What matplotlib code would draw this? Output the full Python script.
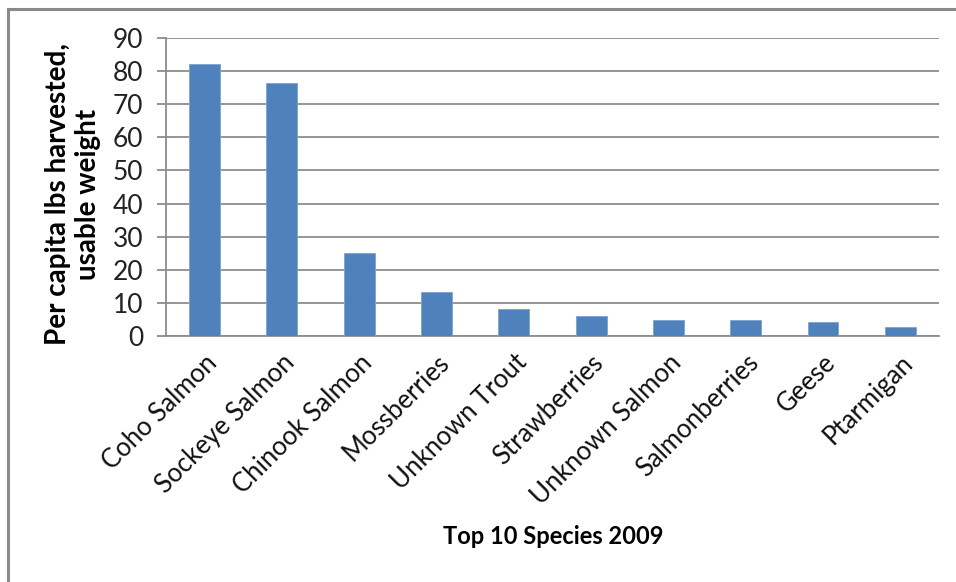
import matplotlib.pyplot as plt
from matplotlib.patches import Rectangle

species = ['Coho Salmon', 'Sockeye Salmon', 'Chinook Salmon', 'Mossberries',
           'Unknown Trout', 'Strawberries', 'Unknown Salmon', 'Salmonberries',
           'Geese', 'Ptarmigan']
lbs = [82.0, 76.5, 25.0, 13.2, 8.2, 5.9, 4.8, 4.8, 4.3, 2.7]
yticks = [0, 10, 20, 30, 40, 50, 60, 70, 80, 90]

plt.rcParams['font.family'] = ['Lato', 'DejaVu Sans']

fig = plt.figure(figsize=(9.56, 5.82), dpi=100)
ax = fig.add_axes([0.1736, 0.4227, 0.8086, 0.512])

x = list(range(len(species)))
ax.bar(x, lbs, width=0.4, color='#4F81BD', edgecolor='#7ea3d0', linewidth=0.6, zorder=3)

ax.set_xlim(-0.5, len(species) - 0.5)
ax.set_ylim(0, 90)
ax.set_yticks(yticks)
ax.set_yticklabels([str(t) for t in yticks], fontsize=19, color='#222222')
ax.set_xticks(x)
ax.set_xticklabels(species, rotation=45, ha='right', rotation_mode='anchor',
                   fontsize=18.5, color='#111111')

ax.grid(axis='y', color='#8c8c8c', linewidth=1.3, zorder=0)
for s in ['top', 'right']:
    ax.spines[s].set_visible(False)
for s in ['left', 'bottom']:
    ax.spines[s].set_color('#8c8c8c')
    ax.spines[s].set_linewidth(1.3)
ax.tick_params(axis='y', length=6.5, width=1.3, color='#8c8c8c', pad=10)
ax.tick_params(axis='x', length=0, pad=10)

fig.text(73 / 956, 1 - 194 / 582, 'Per capita lbs harvested,\nusable weight',
         rotation=90, ha='center', va='center', multialignment='center',
         fontsize=20, fontweight='bold', linespacing=1.2)
fig.text(553 / 956, 1 - 537 / 582, 'Top 10 Species 2009', ha='center', va='center',
         fontsize=17, fontweight='bold')

# outer chart frame (only top and left edges fall inside the image)
fig.patches.append(Rectangle((8 / 956, -0.1), 1.2, 1 - 9 / 582 + 0.1,
                             transform=fig.transFigure, fill=False,
                             edgecolor='#8a8a8a', linewidth=2.2))

fig.savefig('out.png', dpi=100)
